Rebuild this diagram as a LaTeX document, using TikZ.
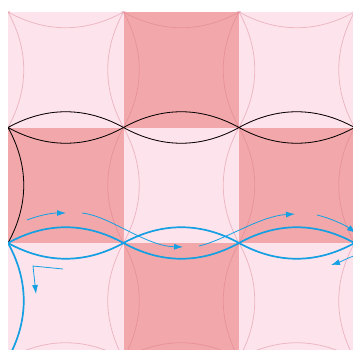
\documentclass[tikz,border=0pt]{standalone}
\usepackage{tikz}
\usetikzlibrary{arrows.meta}
\definecolor{tilelight}{RGB}{253,228,236}
\definecolor{tiledark}{RGB}{242,168,170}
\definecolor{seampink}{RGB}{215,115,135}
\definecolor{flowblue}{RGB}{20,160,226}

\begin{document}
\begin{tikzpicture}[x=1pt, y=-1pt,
  faint/.style={draw=seampink, line width=0.8pt, opacity=0.4},
  seam/.style={draw=black, line width=0.8pt},
  blueseam/.style={draw=flowblue, line width=1.7pt},
  flow/.style={draw=flowblue, line width=0.8pt, -{Latex[length=9pt,width=6pt]}}
]
\useasboundingbox (0,0) rectangle (353,350);

% lattice points of the tiling
\foreach \i in {0,...,4}
  \foreach \j in {0,...,4}
    \coordinate (p\i\j) at ({8+115.5*\i},{12+115.5*\j});

\begin{scope}
\clip (8,12) rectangle (353,350);
% checkerboard tiles
\foreach \i/\k in {0/1,1/2,2/3}
  \foreach \j/\l in {0/1,1/2,2/3} {
    \pgfmathtruncatemacro{\odd}{mod(\i+\j,2)}
    \ifnum\odd=1
      \fill[tiledark] (p\i\j) rectangle (p\k\l);
    \else
      \fill[tilelight] (p\i\j) rectangle (p\k\l);
    \fi
  }
% faint lenses on every edge
\foreach \i/\k in {0/1,1/2,2/3}
  \foreach \j in {0,...,3} {
    \draw[faint] (p\i\j) .. controls +(38,-21) and +(-38,-21) .. (p\k\j)
                 .. controls +(-38,21) and +(38,21) .. (p\i\j);
    \draw[faint] (p\j\i) .. controls +(21,38) and +(21,-38) .. (p\j\k)
                 .. controls +(-21,-38) and +(-21,38) .. (p\j\i);
  }

% black seams
\foreach \i/\k in {0/1,1/2,2/3} {
  \draw[seam] (p\i1) .. controls +(38,-21) and +(-38,-21) .. (p\k1);
  \draw[seam] (p\i1) .. controls +(38,21) and +(-38,21) .. (p\k1);
}
\draw[seam] (p01) .. controls +(21,38) and +(21,-38) .. (p02);

% blue seams
\foreach \i/\k in {0/1,1/2,2/3} {
  \draw[blueseam] (p\i2) .. controls +(38,-21) and +(-38,-21) .. (p\k2);
  \draw[blueseam] (p\i2) .. controls +(38,21) and +(-38,21) .. (p\k2);
}
\draw[blueseam] (p02) .. controls +(21,38) and +(21,-38) .. (p03);

% flow arrows
\draw[flow] (27,220) .. controls (40,215) and (52,213) .. (66,213);
\draw[flow] (82,213) .. controls (110,216) and (145,246) .. (183,247);
\draw[flow] (199,246) .. controls (225,240) and (260,216) .. (295,214);
\draw[flow] (317,215) .. controls (330,218) and (345,225) .. (356,233);
\draw[flow] (356,255) .. controls (348,258) and (340,262) .. (331,265);
\draw[flow] (63,269) -- (33,266) -- (36,294);
\end{scope}
\end{tikzpicture}
\end{document}
